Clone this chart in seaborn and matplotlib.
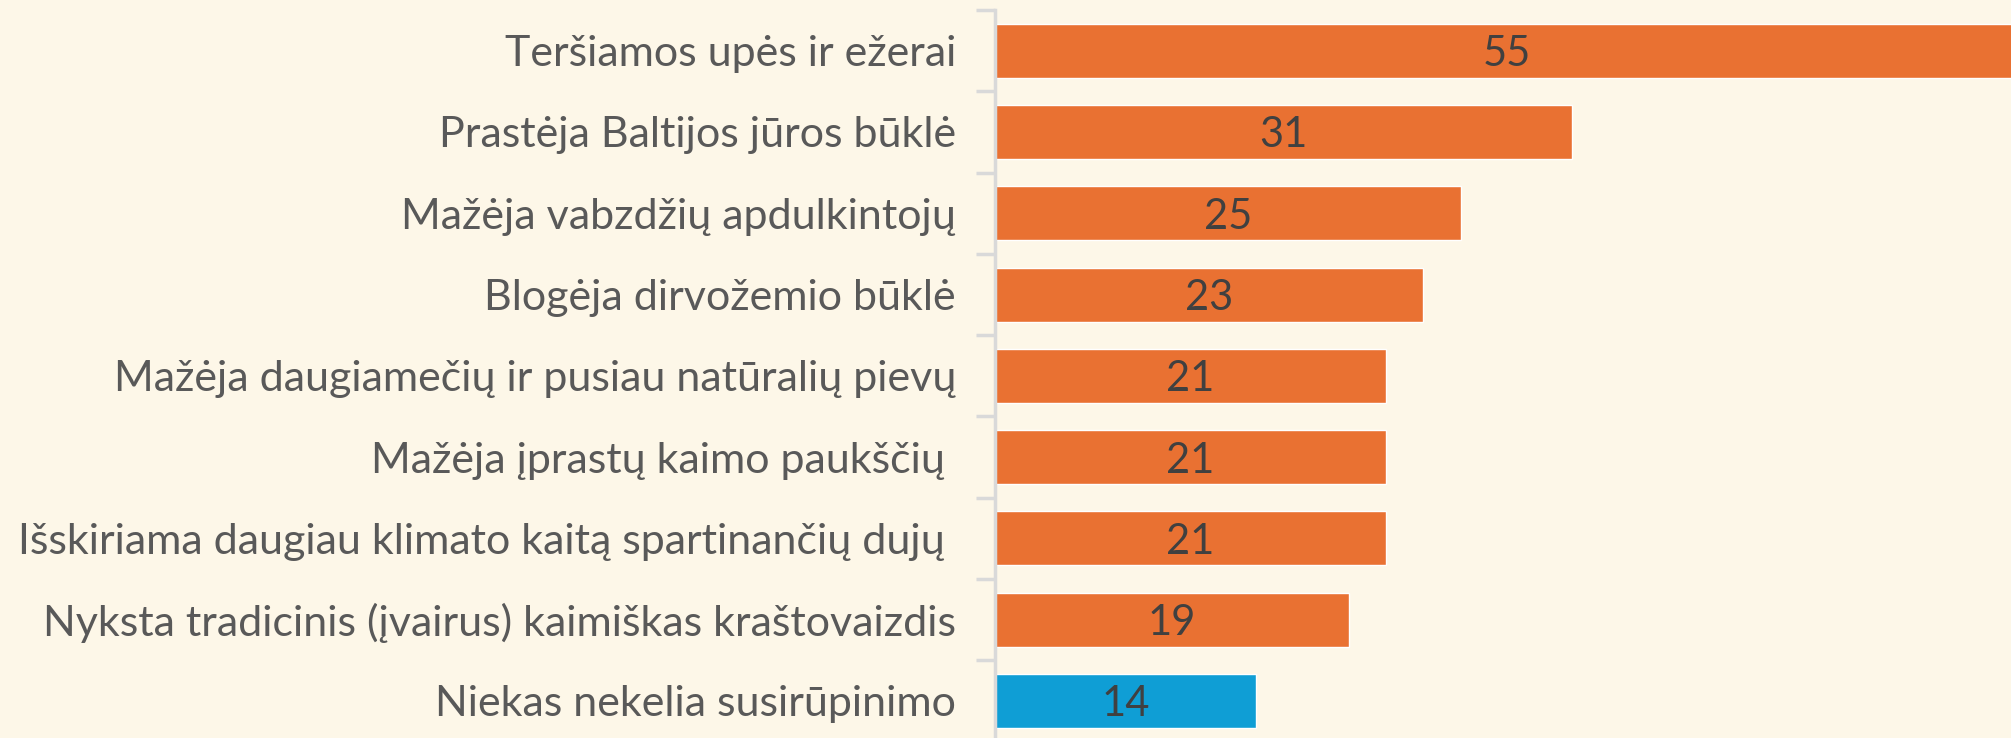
import matplotlib.pyplot as plt
import seaborn as sns
import pandas as pd
from matplotlib.ticker import FixedLocator, NullLocator

categories = [
    "Teršiamos upės ir ežerai",
    "Prastėja Baltijos jūros būklė",
    "Mažėja vabzdžių apdulkintojų",
    "Blogėja dirvožemio būklė",
    "Mažėja daugiamečių ir pusiau natūralių pievų",
    "Mažėja įprastų kaimo paukščių ",
    "Išskiriama daugiau klimato kaitą spartinančių dujų ",
    "Nyksta tradicinis (įvairus) kaimiškas kraštovaizdis",
    "Niekas nekelia susirūpinimo",
]
values = [55, 31, 25, 23, 21, 21, 21, 19, 14]
groups = ["concern"] * 8 + ["none"]

df = pd.DataFrame({"label": categories, "value": values, "group": groups})

bg = "#FDF7E8"
sns.set_theme(style="white")
plt.rcParams["font.family"] = ["Lato", "DejaVu Sans"]

fig = plt.figure(figsize=(20.11, 7.38), dpi=100, facecolor=bg)
ax = fig.add_axes([995 / 2011, -0.0049, 1 - 995 / 2011, 0.9913])
ax.set_facecolor(bg)

sns.barplot(data=df, y="label", x="value", hue="group", orient="h",
            palette={"concern": "#E97132", "none": "#0F9ED5"},
            width=0.665, dodge=False, legend=False, saturation=1, ax=ax)

for p, v in zip(ax.patches, values):
    ax.text(p.get_x() + p.get_width() / 2, p.get_y() + p.get_height() / 2,
            str(v), ha="center", va="center_baseline", fontsize=30, color="#404040")

ax.set_xlim(0, 54.56)
ax.set_ylim(len(categories) - 0.5, -0.5)
ax.set_xlabel("")
ax.set_ylabel("")
ax.xaxis.set_major_locator(NullLocator())
for s in ["top", "right", "bottom"]:
    ax.spines[s].set_visible(False)
ax.spines["left"].set_color("#D9D9D9")
ax.spines["left"].set_linewidth(2.5)

ax.yaxis.set_minor_locator(FixedLocator([i - 0.5 for i in range(len(categories) + 1)]))
ax.tick_params(axis="y", which="major", length=0, pad=28, labelsize=31, labelcolor="#595959")
ax.tick_params(axis="y", which="minor", left=True, length=14, width=2.5, color="#D9D9D9")

fig.savefig("out.png", dpi=100, facecolor=bg)
